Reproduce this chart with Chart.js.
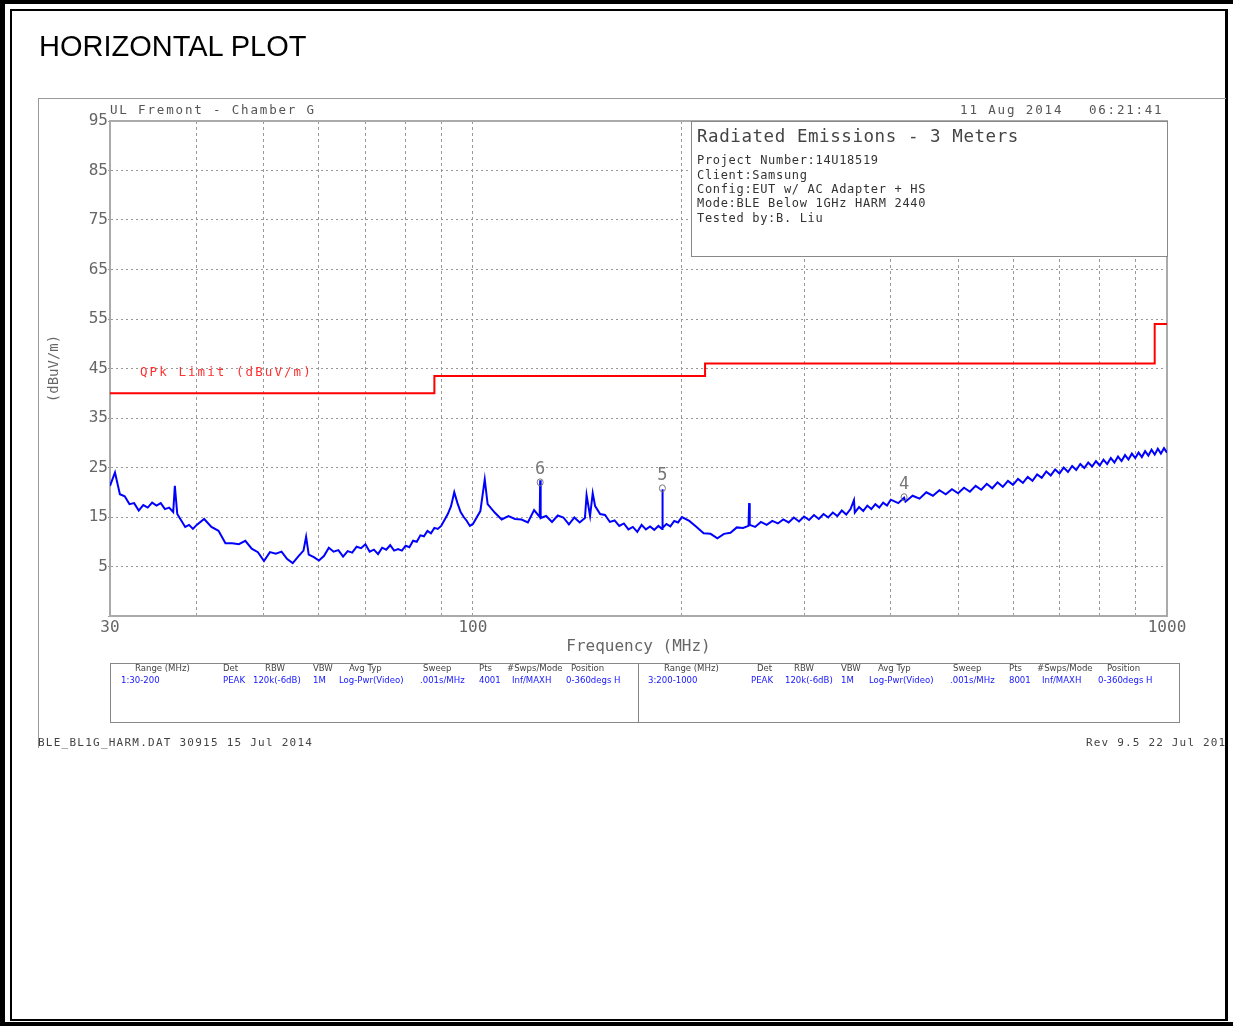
<!DOCTYPE html>
<html>
<head>
<meta charset="utf-8">
<script src="https://cdn.jsdelivr.net/npm/chart.js@4.4.1/dist/chart.umd.min.js"></script>
<style>
html,body{margin:0;padding:0;background:#fff;}
body{width:1233px;height:1026px;position:relative;overflow:hidden;}
.abs{position:absolute;}
#chartCanvas{position:absolute;left:0;top:0;z-index:1;}
.ov{z-index:2;}
</style>
</head>
<body>
<canvas id="chartCanvas" width="1233" height="1026"></canvas>
<div id="overlay"></div>
<script>
// ---------------- DATA ----------------
const traceFreqs = [
  30, 30.5, 31, 31.5, 32, 32.5, 33, 33.5, 34, 34.5, 35, 35.5, 36, 36.5, 37, 37.2, 37.5, 38, 38.5, 39, 39.5, 40,
  41, 42, 43, 44, 45, 46, 47, 48, 49, 50, 51, 52, 53, 54, 55, 56, 57, 57.5, 58, 59, 60,
  61, 62, 63, 64, 65, 66, 67, 68, 69, 70, 71, 72, 73, 74, 75, 76, 77, 78, 79, 80,
  81, 82, 83, 84, 85, 86, 87, 88, 89, 90, 91, 92, 93, 94, 95, 96, 97, 98, 99, 100,
  102.5, 104, 105, 107.5, 110, 112.5, 115, 117.5, 120, 122.5, 124.8, 125, 125.2, 127.5, 130, 132.5,
  135, 137.5, 140, 142.5, 145, 145.8, 147.5, 148.8, 150, 152.5, 155, 157.5, 160, 162.5, 165, 167.5,
  170, 172.5, 175, 177.5, 180, 182.5, 185, 187.3, 187.5, 187.7, 190, 192.5, 195, 197.5, 200,
  205, 210, 215, 220, 225, 230, 235, 240, 245, 249.5, 250, 250.5, 255, 260, 265, 270, 275, 280, 285, 290, 295,
  300, 305, 310, 315, 320, 325, 330, 335, 340, 345, 350, 354, 355, 360, 365, 370, 375, 380, 385, 390, 395, 400,
  410, 418, 420, 430, 440, 450, 460, 470, 480, 490, 500, 510, 520, 530, 540, 550, 560, 570, 580, 590,
  600, 610, 620, 630, 640, 650, 660, 670, 680, 690, 700, 710, 720, 730, 740, 750, 760, 770, 780, 790,
  800, 810, 820, 830, 840, 850, 860, 870, 880, 890, 900, 910, 920, 930, 940, 950, 960, 970, 980, 990, 1000
];
const traceLevels = [
  21.3, 24.0, 19.6, 19.2, 17.6, 17.8, 16.3, 17.4, 16.9, 17.9, 17.3, 17.8, 16.6, 16.9, 16.0, 21.3, 15.6, 14.3, 13.0, 13.4, 12.6, 13.4,
  14.6, 13.0, 12.2, 9.7, 9.7, 9.5, 10.2, 8.6, 7.9, 6.1, 7.9, 7.6, 8.0, 6.5, 5.7, 7.0, 8.2, 11.0, 7.4, 6.9, 6.2,
  7.1, 8.8, 8.0, 8.3, 7.0, 8.1, 7.8, 9.0, 8.7, 9.5, 8.0, 8.4, 7.5, 8.8, 8.4, 9.3, 8.2, 8.5, 8.2, 9.2,
  8.9, 10.2, 10.0, 11.3, 11.1, 12.2, 11.7, 12.8, 12.6, 13.2, 14.4, 15.6, 17.2, 20.0, 17.8, 16.0, 15.0, 14.2, 13.2, 13.6,
  16.2, 22.6, 17.6, 15.9, 14.5, 15.2, 14.6, 14.5, 13.9, 16.4, 15.0, 22.4, 14.8, 15.2, 14.0, 15.3,
  14.9, 13.5, 14.9, 13.9, 14.8, 19.4, 15.2, 19.8, 17.2, 15.6, 15.4, 14.0, 14.3, 13.2, 13.7, 12.5,
  13.0, 12.0, 13.4, 12.5, 13.1, 12.4, 13.2, 12.6, 20.6, 12.8, 13.6, 13.1, 14.2, 13.9, 15.0,
  14.2, 13.0, 11.7, 11.6, 10.7, 11.6, 11.8, 12.9, 12.8, 13.2, 17.8, 13.4, 13.0, 14.0, 13.4, 14.2, 13.7, 14.5, 13.9, 14.9, 14.1,
  15.1, 14.4, 15.4, 14.6, 15.6, 14.9, 15.9, 15.2, 16.3, 15.5, 16.6, 18.4, 15.9, 17.0, 16.2, 17.3, 16.6, 17.6, 16.9, 17.9, 17.3, 18.5,
  17.8, 18.9, 18.1, 19.3, 18.7, 20.0, 19.3, 20.4, 19.6, 20.6, 19.8, 20.9, 20.1, 21.3, 20.5, 21.7, 20.8, 22.0, 21.1, 22.3,
  21.5, 22.7, 21.9, 23.1, 22.3, 23.6, 22.9, 24.2, 23.4, 24.6, 23.8, 25.0, 24.1, 25.3, 24.5, 25.7, 24.9, 26.0, 25.2, 26.3,
  25.4, 26.6, 25.7, 26.9, 26.0, 27.2, 26.3, 27.5, 26.6, 27.8, 26.9, 28.0, 27.1, 28.3, 27.4, 28.6, 27.6, 28.8, 27.8, 28.9, 28.0
];
const limitFreqs  = [30, 88, 88, 216, 216, 960, 960, 1000];
const limitLevels = [40, 40, 43.5, 43.5, 46, 46, 54, 54];
const markerFreqs  = [418, 187.5, 125];
const markerLevels = [19.0, 20.8, 22.0];
const markerLabels = ['4', '5', '6'];
const xGridTicks  = [30, 40, 50, 60, 70, 80, 90, 100, 200, 300, 400, 500, 600, 700, 800, 900, 1000];
const xTickLabels = [30, 100, 1000];
const yGridTicks  = [-5, 5, 15, 25, 35, 45, 55, 65, 75, 85, 95];
const yTickLabels = [5, 15, 25, 35, 45, 55, 65, 75, 85, 95];

// ---------------- OVERLAY TEXT / FRAMES ----------------
const MONO = '"DejaVu Sans Mono", monospace';
const NARROW = '"Liberation Sans Narrow", "DejaVu Sans Condensed", "Liberation Sans", sans-serif';
const ov = document.getElementById('overlay');
function box(css){ const d=document.createElement('div'); d.className='abs ov'; d.style.cssText=css; ov.appendChild(d); return d; }
function txt(text, x, cy, size, pitch, color, family, ls){
  const d=document.createElement('div'); d.className='abs ov'; d.textContent=text;
  const spacing = pitch ? (pitch - 0.602*size) : (ls||0);
  d.style.cssText = 'left:'+x+'px;top:'+(cy-0.48*size)+'px;font-size:'+size+'px;line-height:1;font-family:'+family+
    ';white-space:pre;color:'+color+';letter-spacing:'+spacing+'px;';
  ov.appendChild(d); return d;
}
// page frame
box('left:0;top:0;width:1233px;height:1026px;box-sizing:border-box;border-left:5px solid #000;border-top:4px solid #000;border-bottom:4px solid #000;');
box('left:10px;top:9px;width:1218px;height:1012px;box-sizing:border-box;border:2px solid #000;border-right-width:3px;');
// title
const t = document.createElement('div'); t.className='abs ov'; t.textContent='HORIZONTAL PLOT';
t.style.cssText='left:39px;top:32px;font-family:"Liberation Sans",Arial,sans-serif;font-size:29px;line-height:1;color:#000;white-space:pre;';
ov.appendChild(t);
// plot outer frame lines
box('left:38px;top:98px;width:1188px;height:1px;background:#999;');
box('left:38px;top:98px;width:1px;height:650px;background:#999;');
// header texts
txt('UL Fremont - Chamber G', 110, 110, 12.5, 9.36, '#555', MONO);
txt('11 Aug 2014', 960, 110, 12.5, 9.4, '#555', MONO);
txt('06:21:41', 1089, 110, 12.5, 9.3, '#555', MONO);
// info box
box('left:691px;top:121px;width:477px;height:136px;box-sizing:border-box;border:1px solid #888;background:#fff;');
txt('Radiated Emissions - 3 Meters', 697, 136, 17.5, 11.1, '#444', MONO);
txt('Project Number:14U18519', 697, 160, 12, 7.9, '#333', MONO);
txt('Client:Samsung', 697, 175, 12, 7.9, '#333', MONO);
txt('Config:EUT w/ AC Adapter + HS', 697, 189, 12, 7.9, '#333', MONO);
txt('Mode:BLE Below 1GHz HARM 2440', 697, 203, 12, 7.9, '#333', MONO);
txt('Tested by:B. Liu', 697, 218, 12, 7.9, '#333', MONO);
// limit label
txt('QPk Limit (dBuV/m)', 140, 372, 12.5, 9.6, '#ff3030', MONO);
// settings table
box('left:110px;top:663px;width:1070px;height:60px;box-sizing:border-box;border:1px solid #888;background:#fff;');
box('left:638px;top:663px;width:1px;height:60px;background:#888;');
const hdr = [['Range (MHz)',135],['Det',223],['RBW',265],['VBW',313],['Avg Typ',349],['Sweep',423],['Pts',479],['#Swps/Mode',507],['Position',571]];
const val1 = [['1:30-200',121],['PEAK',223],['120k(-6dB)',253],['1M',313],['Log-Pwr(Video)',339],['.001s/MHz',420],['4001',479],['Inf/MAXH',512],['0-360degs H',566]];
const hdr2 = [['Range (MHz)',664],['Det',757],['RBW',794],['VBW',841],['Avg Typ',878],['Sweep',953],['Pts',1009],['#Swps/Mode',1037],['Position',1107]];
const val2 = [['3:200-1000',648],['PEAK',751],['120k(-6dB)',785],['1M',841],['Log-Pwr(Video)',869],['.001s/MHz',950],['8001',1009],['Inf/MAXH',1042],['0-360degs H',1098]];
hdr.concat(hdr2).forEach(h => txt(h[0], h[1], 668, 9.5, null, '#444', NARROW, 0));
val1.concat(val2).forEach(h => txt(h[0], h[1], 680, 9.5, null, '#1515ff', NARROW, 0));
// footer
txt('BLE_BL1G_HARM.DAT 30915 15 Jul 2014', 38, 742, 11, 7.86, '#444', MONO);
const rev = txt('Rev 9.5 22 Jul 2014', 1086, 742, 11, 7.8, '#444', MONO);
rev.style.width='139px'; rev.style.overflow='hidden';

// ---------------- CHART ----------------
Chart.defaults.font.family = 'DejaVu Sans Mono';
const framePlugin = {
  id: 'frame',
  beforeDatasetsDraw(chart){
    const {ctx, chartArea:a} = chart;
    ctx.save(); ctx.strokeStyle='#aaa'; ctx.lineWidth=2;
    ctx.strokeRect(a.left, a.top, a.right-a.left, a.bottom-a.top);
    ctx.restore();
  }
};
const markerPlugin = {
  id: 'markers',
  afterDatasetsDraw(chart){
    const {ctx} = chart; const xs = chart.scales.x, ys = chart.scales.y;
    ctx.save();
    markerFreqs.forEach((f,i) => {
      const x = xs.getPixelForValue(f), y = ys.getPixelForValue(markerLevels[i]);
      ctx.strokeStyle='#777'; ctx.lineWidth=1;
      ctx.beginPath(); ctx.ellipse(x, y, 3, 3.5, 0, 0, Math.PI*2); ctx.stroke();
      ctx.fillStyle='#777'; ctx.font='17px "DejaVu Sans Mono"'; ctx.textAlign='center'; ctx.textBaseline='middle';
      ctx.fillText(markerLabels[i], x, y-13);
    });
    ctx.restore();
  }
};
new Chart(document.getElementById('chartCanvas').getContext('2d'), {
  type: 'line',
  data: {
    datasets: [
      { label: 'QPk Limit', data: limitFreqs.map((f,i)=>({x:f, y:limitLevels[i]})), borderColor:'#ff0000', borderWidth:2, pointRadius:0, tension:0, order:1 },
      { label: 'Trace', data: traceFreqs.map((f,i)=>({x:f, y:traceLevels[i]})), borderColor:'#0000ff', borderWidth:2, pointRadius:0, tension:0, order:2 }
    ]
  },
  options: {
    responsive: false, animation: false, devicePixelRatio: 1,
    layout: { padding: { left: 30, top: 121, right: 66, bottom: 365 } },
    plugins: { legend: { display: false }, tooltip: { enabled: false } },
    scales: {
      x: {
        type: 'logarithmic', min: 30, max: 1000, position: 'bottom',
        afterBuildTicks: s => { s.ticks = xGridTicks.map(v => ({ value: v })); },
        afterFit: s => { s.height = 45; },
        ticks: { autoSkip: false, maxRotation: 0, minRotation: 0, padding: 2, color: '#666', font: { size: 16 },
                 callback: v => xTickLabels.includes(v) ? String(v) : '' },
        grid: { color: '#999', lineWidth: 1, drawTicks: false },
        border: { display: true, color: '#aaa', width: 2, dash: [3, 3] },
        title: { display: true, text: 'Frequency (MHz)', color: '#666', font: { size: 16 }, padding: { top: 0, bottom: 5 } }
      },
      y: {
        min: -5, max: 95,
        afterBuildTicks: s => { s.ticks = yGridTicks.map(v => ({ value: v })); },
        afterFit: s => { s.width = 80; },
        ticks: { padding: 0, color: '#666', font: { size: 16 }, autoSkip: false,
                 callback: v => yTickLabels.includes(v) ? String(v) : '' },
        grid: { color: '#999', lineWidth: 1, tickLength: 2 },
        border: { display: true, color: '#aaa', width: 2, dash: [2, 3] },
        title: { display: true, text: '(dBuV/m)', color: '#666', font: { size: 14 }, padding: { top: 16, bottom: 0 } }
      }
    }
  },
  plugins: [framePlugin, markerPlugin]
});
</script>
</body>
</html>
